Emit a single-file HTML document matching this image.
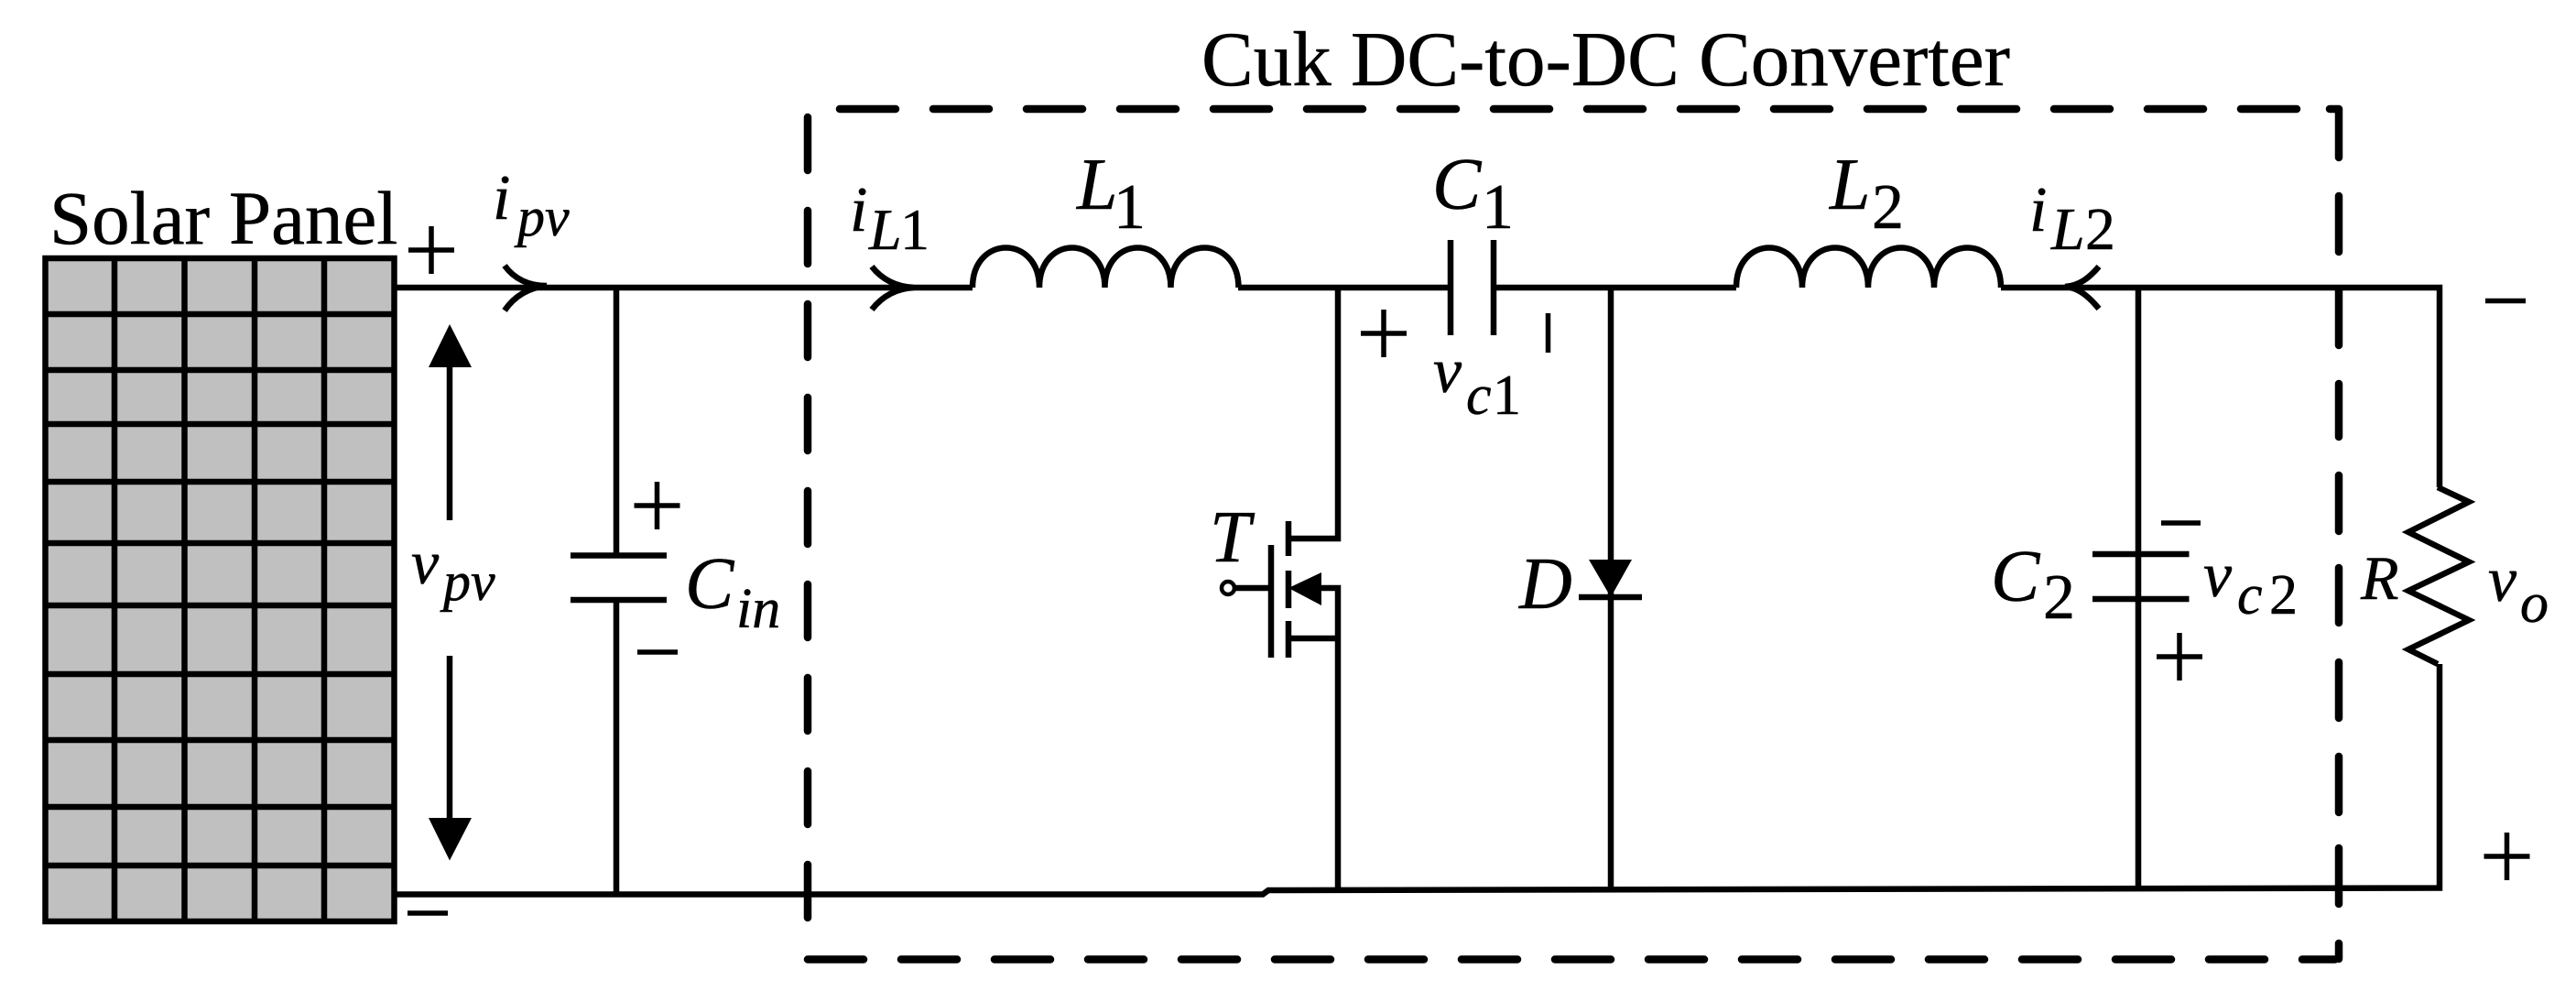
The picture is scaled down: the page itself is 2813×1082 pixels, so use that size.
<!DOCTYPE html>
<html><head><meta charset="utf-8"><style>
html,body{margin:0;padding:0;background:#fff}
svg{display:block}
text{font-family:"Liberation Serif",serif;fill:#000;stroke:#000;stroke-width:.5}
.i{font-style:italic}
</style></head><body>
<svg width="2813" height="1082" viewBox="0 0 2813 1082" xmlns="http://www.w3.org/2000/svg">
<rect x="0" y="0" width="2813" height="1082" fill="#fff"/>
<!-- Solar panel -->
<rect x="49.500" y="282" width="381" height="724" fill="#c0c0c0" stroke="#000" stroke-width="6.500"/>
<g stroke="#000" stroke-width="6.500" fill="none">
<path d="M125 282V1006M201.500 282V1006M278 282V1006M354 282V1006"/>
<path d="M49 343H431M49 404H431M49 463H431M49 526H431M49 593H431M49 661H431M49 736H431M49 808H431M49 881H431M49 945H431"/>
</g>
<!-- Dashed box -->
<g stroke="#000" stroke-width="8.500" fill="none" stroke-linecap="round">
<path d="M882 128V1004" stroke-dasharray="58 44"/>
<path d="M917 119H2520" stroke-dasharray="61 41"/>
<path d="M882 1047.500H2550" stroke-dasharray="61 41"/>
<path d="M2554 119V172M2554 214V275M2554 316V377M2554 419V477M2554 519V580M2554 620V680M2554 723V784M2554 826V887M2554 926V987M2554 1030V1047M2544 119H2554"/>
</g>
<!-- Wires -->
<g stroke="#000" stroke-width="6.500" fill="none">
<path d="M431 314H1062M1352 314H1584M1631 314H1896M2185 314H2664V532"/>
<path d="M431 976.500H1379L1385 972L2664 969.500V725"/>
<path d="M673 314V606M673 655V976"/>
<path d="M623 606.500H728M623 655H728"/>
<path d="M1062 314C1062 256 1135 256 1135 314C1135 256 1206.500 256 1206.500 314C1206.500 256 1278.500 256 1278.500 314C1278.500 256 1352.500 256 1352.500 314"/>
<path d="M1896 314C1896 256 1968 256 1968 314C1968 256 2040 256 2040 314C2040 256 2112 256 2112 314C2112 256 2185 256 2185 314"/>
<path d="M1584 262V366M1631 262V366"/>
<path d="M1461 314V588H1407M1407 569V607M1407 623V664M1407 678V718M1388 595V718M1349 642H1388M1407 697H1461M1443 642H1461V971"/>
<path d="M1759 314V971M1724 652H1793"/>
<path d="M2335 313V969M2285 605H2390.500M2285 654H2390.500"/>
<path d="M2662 532L2696 548L2630 581L2696 613.500L2630 645L2696 677L2630 709L2662 725"/>
<path d="M491 401V568M491 716V893"/>
<path d="M551 290C562 305 578 312 597 312C578 314 562 323 551 339"/>
<path d="M952 291C963 305 978 313 998 314C978 315 963 324 952 338"/>
<path d="M2292 291C2281 304 2270 312 2255 313C2270 314 2281 324 2292 337"/>
</g>
<circle cx="1341" cy="642" r="7" fill="#fff" stroke="#000" stroke-width="4.500"/>
<path d="M491 354L515 401H468Z M491 939.500L515 893H468Z M1407 642L1443 625V661Z M1735 611H1782L1759 652Z" fill="#000"/>
<!-- + and − signs -->
<g stroke="#000" stroke-width="5.500" fill="none">
<path d="M446 273H496M471 247V299"/>
<path d="M445 997H489"/>
<path d="M692.500 552H742.500M717.500 526V578"/>
<path d="M696 712H740"/>
<path d="M1486 364H1536M1511 338V390"/>
<path d="M1690.500 342V385"/>
<path d="M2360 571H2403"/>
<path d="M2355 717H2405M2380 691V743"/>
<path d="M2714 328.500H2758"/>
<path d="M2712.500 935H2762.500M2737.500 909V961"/>
</g>
<!-- Text -->
<text x="54" y="266" font-size="83">Solar Panel</text>
<text x="1312" y="93" font-size="85">Cuk DC-to-DC Converter</text>
<text class="i" x="538" y="239" font-size="70">i</text>
<text class="i" x="565" y="257" font-size="60">pv</text>
<text class="i" x="449" y="637" font-size="68">v</text>
<text class="i" x="484" y="655" font-size="60">pv</text>
<text class="i" x="748" y="664" font-size="80">C</text>
<text class="i" x="804" y="685" font-size="62">in</text>
<text class="i" x="928" y="252" font-size="70">i</text>
<text class="i" x="949" y="272" font-size="64">L</text><text x="983" y="272" font-size="64">1</text>
<text class="i" x="1176" y="228" font-size="80">L</text><text x="1216" y="249" font-size="70">1</text>
<text class="i" x="1564" y="228" font-size="80">C</text><text x="1618" y="249" font-size="70">1</text>
<text class="i" x="1565" y="428" font-size="70">v</text>
<text class="i" x="1601" y="452" font-size="62">c</text><text x="1630" y="452" font-size="62">1</text>
<text class="i" x="1321" y="613" font-size="80">T</text>
<text class="i" x="1659" y="664" font-size="80">D</text>
<text class="i" x="1998" y="228" font-size="80">L</text><text x="2044" y="249" font-size="70">2</text>
<text class="i" x="2216" y="252" font-size="70">i</text>
<text class="i" x="2240" y="272" font-size="66">L</text><text x="2277" y="272" font-size="66">2</text>
<text class="i" x="2174" y="656" font-size="80">C</text><text x="2231" y="675" font-size="70">2</text>
<text class="i" x="2406" y="651" font-size="70">v</text>
<text class="i" x="2443" y="670" font-size="62">c</text><text x="2478" y="670" font-size="62">2</text>
<text class="i" x="2578" y="654" font-size="68">R</text>
<text class="i" x="2717" y="656" font-size="70">v</text>
<text class="i" x="2752" y="679" font-size="62">o</text>
</svg>
</body></html>
